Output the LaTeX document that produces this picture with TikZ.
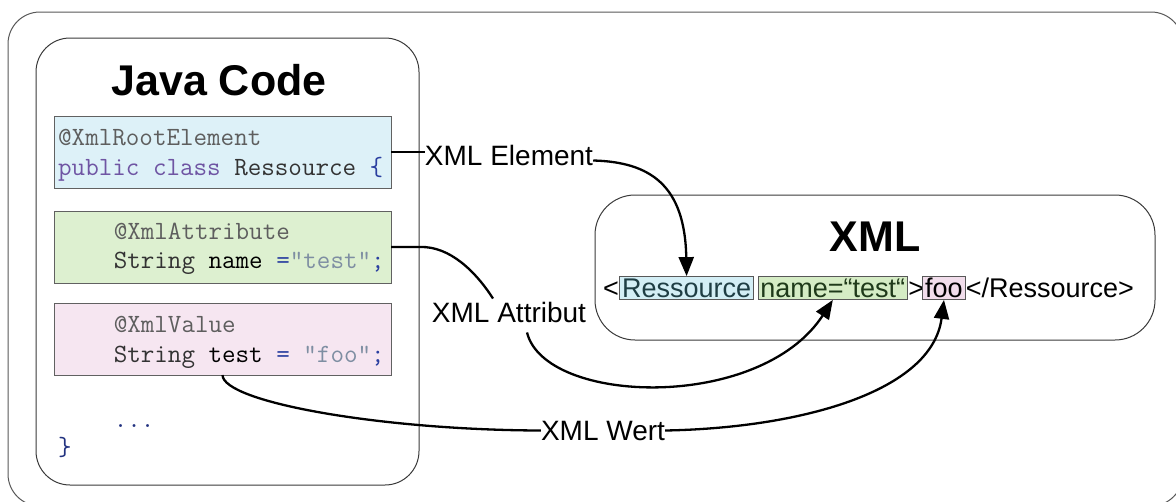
\documentclass[tikz,border=0pt]{standalone}
\usepackage{fontspec}
\setmainfont{Liberation Sans}
\usetikzlibrary{arrows.meta,calc}
\definecolor{bluefill}{HTML}{DDF1F8}
\definecolor{greenfill}{HTML}{DDF0D0}
\definecolor{pinkfill}{HTML}{F6E6F1}
\definecolor{hlblue}{HTML}{D3EEF5}
\definecolor{hlgreen}{HTML}{D5ECC5}
\definecolor{hlpink}{HTML}{F1DDEB}
\definecolor{annot}{HTML}{5E5E5E}
\definecolor{kw}{HTML}{6F55A3}
\definecolor{ident}{HTML}{333333}
\definecolor{op}{HTML}{2A3FA0}
\definecolor{strc}{HTML}{7E8EA2}
\definecolor{boxline}{HTML}{3A3A3A}
\definecolor{hltxtblue}{HTML}{1F3E44}
\definecolor{hltxtgreen}{HTML}{1F3A1A}
\tikzset{
  panel/.style={draw=boxline, line width=1pt},
  codebox/.style={draw=boxline!80, line width=1pt, inner sep=0pt, outer sep=0pt,
    minimum width=337pt, minimum height=72pt, anchor=north west},
  code/.style={font=\ttfamily\fontsize{26.3}{26.3}\selectfont, inner sep=0pt, anchor=base west},
  title/.style={font=\bfseries\fontsize{43}{43}\selectfont, inner sep=0pt, anchor=base},
  xmltext/.style={font=\fontsize{27}{27}\selectfont, inner sep=0pt, anchor=base west,
    text height=19.5pt, text depth=0.5pt},
  hl/.style={xmltext, draw=boxline!85, line width=0.8pt, inner xsep=2.5pt, inner ysep=1.5pt},
  lbl/.style={font=\fontsize{28}{28}\selectfont, inner sep=0pt, anchor=base},
  conn/.style={line width=2.3pt, black},
  tip/.style={-{Triangle[length=19pt,width=15pt]}}
}
\begin{document}
\begin{tikzpicture}[x=1pt,y=-1pt]
\useasboundingbox (0,0) rectangle (1176,501);
\clip (0,0) rectangle (1176,501);
% outer frame
\draw[panel, draw=boxline!85, rounded corners=32pt] (8,12) rectangle (1183,506);
% Java panel
\draw[panel, rounded corners=34pt] (36,38) rectangle (419,485);
\node[title] (jtitle) at (219,95) {Java Code};
% code boxes
\node[codebox, fill=bluefill] (blue) at (54,116) {};
\node[codebox, fill=greenfill] (green) at (54,211) {};
\node[codebox, fill=pinkfill] (pink) at (54,303) {};
\begin{scope}
\clip (blue.north west) rectangle (blue.south east);
\node[code] (b1) at (58,145) {\textcolor{annot}{@XmlRootElement}};
\node[code] (b2) at (58,175) {\textcolor{kw}{public class} \textcolor{ident}{Ressource} \textcolor{op}{\{}};
\end{scope}
\begin{scope}
\clip (green.north west) rectangle (green.south east);
\node[code] (g1) at (113.6,239) {\textcolor{annot}{@XmlAttribute}};
\node[code] (g2) at (113.6,268) {\textcolor{ident}{String} \textcolor{black}{name} \textcolor{op}{=}\textcolor{strc}{"test"}\textcolor{op}{;}};
\end{scope}
\begin{scope}
\clip (pink.north west) rectangle (pink.south east);
\node[code] (p1) at (113.6,332) {\textcolor{annot}{@XmlValue}};
\node[code] (p2) at (113.6,362) {\textcolor{ident}{String} \textcolor{black}{test} \textcolor{op}{=} \textcolor{strc}{"foo"}\textcolor{op}{;}};
\end{scope}
\node[code, text=op!80!black] (dots) at (113.6,427) {...};
\node[code, text=op!80!black] (brace) at (58,455) {\}};
% XML panel
\draw[panel, rounded corners=40pt] (595,195) rectangle (1155,340);
\node[title] (xtitle) at (875,251) {XML};
\node[xmltext] (lt) at (603,297.5) {<};
\node[hl, fill=hlblue, text=hltxtblue] (ress) at (lt.base east) {Ressource};
\node[hl, fill=hlgreen, text=hltxtgreen] (name) at ($(ress.base east)+(3.5,0)$) {name=“test“};
\node[xmltext] (gt) at (name.base east) {>};
\node[hl, fill=hlpink, text=black] (foo) at ($(gt.base east)+(-2,0)$) {foo};
\node[xmltext] (endtag) at (foo.base east) {</Ressource>};
% labels
\node[lbl] (elem) at (509,165) {XML Element};
\node[lbl] (attr) at (509,322) {XML Attribut};
\node[lbl] (wert) at (603,440) {XML Wert};
% connectors
\draw[conn] (blue.east) -- (blue.east -| elem.west);
\draw[conn, tip] ($(elem.east)+(0,5.5)$) .. controls (650,162) and (685,185) .. (ress.north);
\draw[conn] (green.east) -- (420,247) .. controls (450,246) and (476,272) .. ($(attr.north)+(-16,-3)$);
\draw[conn, tip] ($(attr.south)+(18,10)$) .. controls (545,405) and (760,412) .. (name.south);
\draw[conn] (pink.south) .. controls (223,402) and (380,430) .. (wert.west);
\draw[conn, tip] (wert.east) .. controls (800,428) and (932,392) .. (foo.south);
\end{tikzpicture}
\end{document}
